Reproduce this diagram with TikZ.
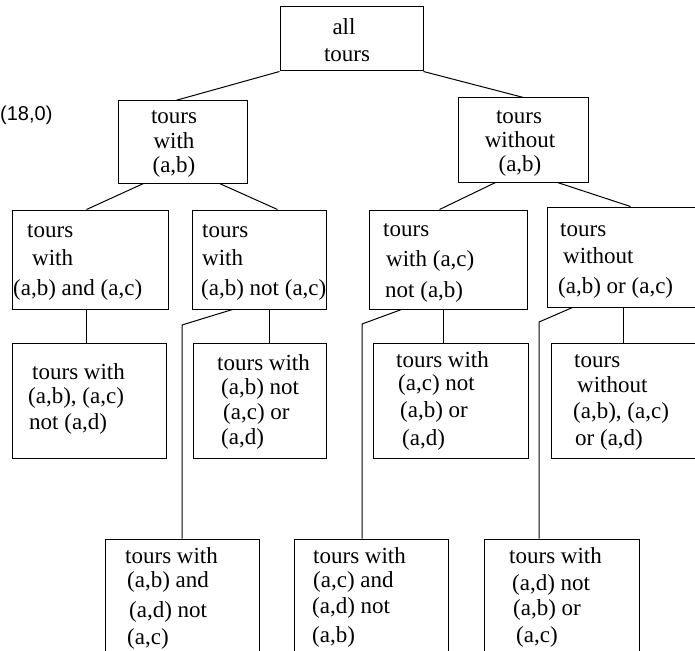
\documentclass[tikz,border=0pt]{standalone}
\usepackage{fontspec}
\setmainfont{Liberation Serif}
\newfontfamily\labelsans{Liberation Sans}
\begin{document}
\begin{tikzpicture}[x=1pt,y=-1pt,
  box/.style={draw,line width=1pt,rectangle,inner sep=0pt},
  txt/.style={anchor=base west,inner sep=0pt,font=\fontsize{23}{27}\selectfont},
  ctxt/.style={anchor=base,inner sep=0pt,font=\fontsize{23}{27}\selectfont},
  link/.style={line width=1pt}]
\useasboundingbox (0,0) rectangle (695,650);
\clip (0,0) rectangle (695,650);

% boxes
\node[box,minimum width=143pt,minimum height=64pt] (all) at (351.5,39) {};
\node[box,minimum width=129pt,minimum height=82pt] (W)   at (182.5,142) {};
\node[box,minimum width=130pt,minimum height=84pt] (WO)  at (523,140) {};
\node[box,minimum width=156pt,minimum height=99pt] (A)   at (90,259.5) {};
\node[box,minimum width=134pt,minimum height=99pt] (B)   at (259,259.5) {};
\node[box,minimum width=158pt,minimum height=99pt] (C)   at (448,259.5) {};
\node[box,minimum width=158pt,minimum height=100pt] (D)  at (626,257) {};
\node[box,minimum width=154pt,minimum height=115pt] (A2) at (89,400.5) {};
\node[box,minimum width=133pt,minimum height=115pt] (B2) at (259.5,400.5) {};
\node[box,minimum width=155pt,minimum height=115pt] (C2) at (450.5,400.5) {};
\node[box,minimum width=154pt,minimum height=115pt] (D2) at (628,400.5) {};
\node[box,minimum width=154pt,minimum height=131pt] (E)  at (182,604.5) {};
\node[box,minimum width=154pt,minimum height=131pt] (F)  at (371,604.5) {};
\node[box,minimum width=155pt,minimum height=131pt] (G)  at (561.5,604.5) {};

% connectors
\draw[link] (all.south west) -- ([xshift=58pt]W.north west);
\draw[link] (all.south east) -- ([xshift=66pt]WO.north west);
\draw[link] ([xshift=26pt]W.south west) -- ([xshift=75pt]A.north west);
\draw[link] ([xshift=102pt]W.south west) -- ([xshift=86pt]B.north west);
\draw[link] ([xshift=38pt]WO.south west) -- ([xshift=71pt]C.north west);
\draw[link] ([xshift=100pt]WO.south west) -- ([xshift=84pt]D.north west);
\draw[link] ([xshift=75pt]A.south west) -- ([xshift=75pt]A2.north west);
\draw[link] ([xshift=78pt]B.south west) -- ([xshift=77pt]B2.north west);
\draw[link] ([xshift=75pt]C.south west) -- ([xshift=71pt]C2.north west);
\draw[link] ([xshift=77pt]D.south west) -- ([xshift=73pt]D2.north west);
\coordinate (bendE) at (182,325);
\coordinate (bendF) at (362,324);
\coordinate (bendG) at (539,322);
\draw[link] ([xshift=41pt]B.south west) -- (bendE) -- (bendE |- E.north);
\draw[link] ([xshift=33pt]C.south west) -- (bendF) -- (bendF |- F.north);
\draw[link] ([xshift=26pt]D.south west) -- (bendG) -- (bendG |- G.north);

% side label
\node[anchor=base west,inner sep=0pt,font=\labelsans\fontsize{20}{24}\selectfont] (lbl) at (0,121) {(18,0)};

% texts
\node[ctxt] (all1) at (344,35) {all};
\node[ctxt] (all2) at (347,62) {tours};

\node[ctxt] (W1) at (174,123) {tours};
\node[ctxt] (W2) at (174,148) {with};
\node[ctxt] (W3) at (174,172) {(a,b)};

\node[ctxt] (WO1) at (519,123) {tours};
\node[ctxt] (WO2) at (520,147) {without};
\node[ctxt] (WO3) at (520,171) {(a,b)};

\node[txt] (A1) at (27,237) {tours};
\node[txt] (A3) at (32,265) {with};
\node[txt] (A4) at (13,295) {(a,b) and (a,c)};

\node[txt] (B1) at (202,237) {tours};
\node[txt] (B3) at (202,265) {with};
\node[txt] (B4) at (201,295) {(a,b) not (a,c)};

\node[txt] (C1) at (383,236) {tours};
\node[txt] (C3) at (386,266) {with (a,c)};
\node[txt] (C4) at (385,297) {not (a,b)};

\node[txt] (D1) at (560,236) {tours};
\node[txt] (D3) at (563,263) {without};
\node[txt] (D4) at (558,293) {(a,b) or (a,c)};

\node[txt] (A21) at (32,379) {tours with};
\node[txt] (A22) at (28,403) {(a,b), (a,c)};
\node[txt] (A23) at (29,429) {not (a,d)};

\node[txt] (B21) at (217,370) {tours with};
\node[txt] (B22) at (221,394) {(a,b) not};
\node[txt] (B23) at (223,419) {(a,c) or};
\node[txt] (B24) at (221,444) {(a,d)};

\node[txt] (C21) at (396,367) {tours with};
\node[txt] (C22) at (398,390) {(a,c) not};
\node[txt] (C23) at (400,417) {(a,b) or};
\node[txt] (C24) at (402,445) {(a,d)};

\node[txt] (D21) at (574,367) {tours};
\node[txt] (D22) at (577,392) {without};
\node[txt] (D23) at (573,418) {(a,b), (a,c)};
\node[txt] (D24) at (575,445) {or (a,d)};

\node[txt] (E1) at (125,563) {tours with};
\node[txt] (E2) at (127,587) {(a,b) and};
\node[txt] (E3) at (129,617) {(a,d) not};
\node[txt] (E4) at (127,644) {(a,c)};

\node[txt] (F1) at (313,563) {tours with};
\node[txt] (F2) at (313,587) {(a,c) and};
\node[txt] (F3) at (312,613) {(a,d) not};
\node[txt] (F4) at (312,642) {(a,b)};

\node[txt] (G1) at (509,563) {tours with};
\node[txt] (G2) at (512,590) {(a,d) not};
\node[txt] (G3) at (513,615) {(a,b) or};
\node[txt] (G4) at (516,642) {(a,c)};
\end{tikzpicture}
\end{document}
